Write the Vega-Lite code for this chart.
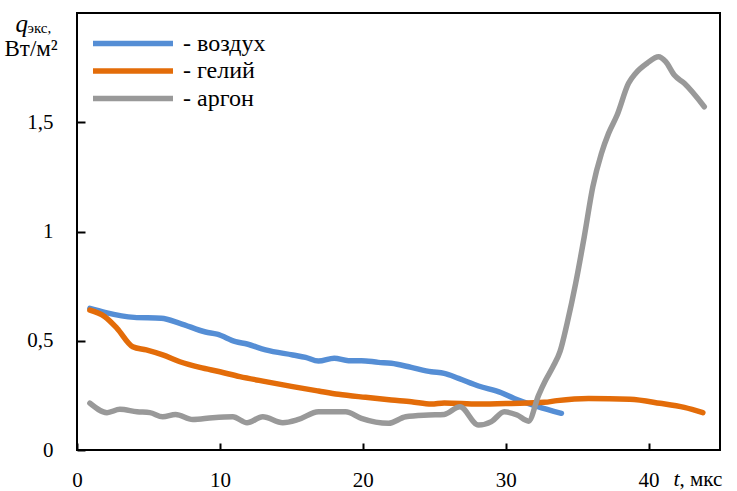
{
  "$schema": "https://vega.github.io/schema/vega-lite/v6.json",
  "width": 643,
  "height": 437,
  "autosize": {"type": "none"},
  "padding": {"left": 77, "top": 13, "right": 17, "bottom": 41},
  "config": {
    "view": {"stroke": "#000", "strokeWidth": 2},
    "font": "Liberation Serif",
    "axis": {"grid": false, "domain": false, "labelFont": "Liberation Serif", "titleFont": "Liberation Serif", "labelColor": "#000", "titleColor": "#000", "tickColor": "#000", "labelFlush": false}
  },
  "data": {
    "values": [
      {"gas": "воздух", "t": 0.9, "q": 0.648},
      {"gas": "воздух", "t": 1.95, "q": 0.63},
      {"gas": "воздух", "t": 4.0, "q": 0.607},
      {"gas": "воздух", "t": 5.9, "q": 0.603},
      {"gas": "воздух", "t": 7.2, "q": 0.58},
      {"gas": "воздух", "t": 9.0, "q": 0.54},
      {"gas": "воздух", "t": 9.8, "q": 0.53},
      {"gas": "воздух", "t": 11.1, "q": 0.496},
      {"gas": "воздух", "t": 11.9, "q": 0.485},
      {"gas": "воздух", "t": 13.2, "q": 0.458},
      {"gas": "воздух", "t": 15.1, "q": 0.435},
      {"gas": "воздух", "t": 16.0, "q": 0.424},
      {"gas": "воздух", "t": 16.9, "q": 0.407},
      {"gas": "воздух", "t": 18.0, "q": 0.42},
      {"gas": "воздух", "t": 19.0, "q": 0.409},
      {"gas": "воздух", "t": 19.9, "q": 0.409},
      {"gas": "воздух", "t": 21.1, "q": 0.401},
      {"gas": "воздух", "t": 22.0, "q": 0.397},
      {"gas": "воздух", "t": 23.4, "q": 0.378},
      {"gas": "воздух", "t": 24.8, "q": 0.358},
      {"gas": "воздух", "t": 25.7, "q": 0.351},
      {"gas": "воздух", "t": 26.7, "q": 0.328},
      {"gas": "воздух", "t": 28.1, "q": 0.293},
      {"gas": "воздух", "t": 29.7, "q": 0.262},
      {"gas": "воздух", "t": 30.6, "q": 0.236},
      {"gas": "воздух", "t": 32.2, "q": 0.2},
      {"gas": "воздух", "t": 33.9, "q": 0.168},
      {"gas": "гелий", "t": 0.9, "q": 0.64},
      {"gas": "гелий", "t": 1.95, "q": 0.61},
      {"gas": "гелий", "t": 2.8, "q": 0.557},
      {"gas": "гелий", "t": 3.9, "q": 0.473},
      {"gas": "гелий", "t": 4.85, "q": 0.458},
      {"gas": "гелий", "t": 6.0, "q": 0.435},
      {"gas": "гелий", "t": 7.2, "q": 0.404},
      {"gas": "гелий", "t": 8.6, "q": 0.378},
      {"gas": "гелий", "t": 10.0, "q": 0.358},
      {"gas": "гелий", "t": 11.4, "q": 0.336},
      {"gas": "гелий", "t": 13.2, "q": 0.313},
      {"gas": "гелий", "t": 15.1, "q": 0.29},
      {"gas": "гелий", "t": 16.9, "q": 0.27},
      {"gas": "гелий", "t": 18.3, "q": 0.255},
      {"gas": "гелий", "t": 20.2, "q": 0.241},
      {"gas": "гелий", "t": 22.0, "q": 0.229},
      {"gas": "гелий", "t": 23.4, "q": 0.221},
      {"gas": "гелий", "t": 24.8, "q": 0.21},
      {"gas": "гелий", "t": 25.7, "q": 0.215},
      {"gas": "гелий", "t": 28.1, "q": 0.21},
      {"gas": "гелий", "t": 30.4, "q": 0.213},
      {"gas": "гелий", "t": 32.7, "q": 0.218},
      {"gas": "гелий", "t": 33.6, "q": 0.226},
      {"gas": "гелий", "t": 35.8, "q": 0.236},
      {"gas": "гелий", "t": 38.7, "q": 0.232},
      {"gas": "гелий", "t": 40.8, "q": 0.214},
      {"gas": "гелий", "t": 42.5, "q": 0.195},
      {"gas": "гелий", "t": 43.8, "q": 0.171},
      {"gas": "аргон", "t": 0.9, "q": 0.214},
      {"gas": "аргон", "t": 2.1, "q": 0.171},
      {"gas": "аргон", "t": 3.0, "q": 0.186},
      {"gas": "аргон", "t": 4.2, "q": 0.175},
      {"gas": "аргон", "t": 5.1, "q": 0.171},
      {"gas": "аргон", "t": 6.0, "q": 0.152},
      {"gas": "аргон", "t": 6.9, "q": 0.163},
      {"gas": "аргон", "t": 8.1, "q": 0.14},
      {"gas": "аргон", "t": 9.5, "q": 0.148},
      {"gas": "аргон", "t": 10.9, "q": 0.152},
      {"gas": "аргон", "t": 11.9, "q": 0.125},
      {"gas": "аргон", "t": 13.0, "q": 0.152},
      {"gas": "аргон", "t": 14.4, "q": 0.125},
      {"gas": "аргон", "t": 15.5, "q": 0.14},
      {"gas": "аргон", "t": 16.9, "q": 0.175},
      {"gas": "аргон", "t": 18.8, "q": 0.175},
      {"gas": "аргон", "t": 19.9, "q": 0.145},
      {"gas": "аргон", "t": 21.8, "q": 0.122},
      {"gas": "аргон", "t": 23.0, "q": 0.152},
      {"gas": "аргон", "t": 24.6, "q": 0.16},
      {"gas": "аргон", "t": 25.7, "q": 0.163},
      {"gas": "аргон", "t": 26.8, "q": 0.198},
      {"gas": "аргон", "t": 28.1, "q": 0.114},
      {"gas": "аргон", "t": 29.0, "q": 0.13},
      {"gas": "аргон", "t": 29.9, "q": 0.175},
      {"gas": "аргон", "t": 30.8, "q": 0.16},
      {"gas": "аргон", "t": 31.6, "q": 0.132},
      {"gas": "аргон", "t": 32.3, "q": 0.25},
      {"gas": "аргон", "t": 32.8, "q": 0.32},
      {"gas": "аргон", "t": 33.3, "q": 0.38},
      {"gas": "аргон", "t": 33.8, "q": 0.45},
      {"gas": "аргон", "t": 34.3, "q": 0.58},
      {"gas": "аргон", "t": 34.9, "q": 0.763},
      {"gas": "аргон", "t": 35.5, "q": 0.976},
      {"gas": "аргон", "t": 36.1, "q": 1.205},
      {"gas": "аргон", "t": 36.7, "q": 1.357},
      {"gas": "аргон", "t": 37.2, "q": 1.449},
      {"gas": "аргон", "t": 37.8, "q": 1.533},
      {"gas": "аргон", "t": 38.6, "q": 1.678},
      {"gas": "аргон", "t": 39.1, "q": 1.724},
      {"gas": "аргон", "t": 39.9, "q": 1.77},
      {"gas": "аргон", "t": 40.7, "q": 1.8},
      {"gas": "аргон", "t": 41.2, "q": 1.777},
      {"gas": "аргон", "t": 41.8, "q": 1.716},
      {"gas": "аргон", "t": 42.5, "q": 1.678},
      {"gas": "аргон", "t": 43.9, "q": 1.571}
    ]
  },
  "layer": [
    {
      "mark": {"type": "line", "strokeWidth": 5.5, "interpolate": "monotone", "strokeCap": "round", "strokeJoin": "round"},
      "encoding": {
        "x": {"field": "t", "type": "quantitative", "scale": {"domain": [0, 45], "nice": false},
          "axis": {"orient": "bottom", "values": [0, 10, 20, 30, 40], "tickSize": -7, "tickWidth": 2, "labelPadding": 26, "labelFontSize": 21,
            "title": "t", "titleFontStyle": "italic", "titleFontWeight": "normal", "titleFontSize": 22, "titleAngle": 0, "titleX": 596, "titleY": 35, "titleAlign": "left", "titleBaseline": "alphabetic"}},
        "y": {"field": "q", "type": "quantitative", "scale": {"domain": [0, 2], "nice": false},
          "axis": {"orient": "left", "values": [0, 0.5, 1, 1.5], "labelExpr": "replace(toString(datum.value), '.', ',')", "tickSize": -8, "tickWidth": 2, "labelPadding": 32, "labelFontSize": 21,
            "title": "q", "titleFontStyle": "italic", "titleFontWeight": "normal", "titleFontSize": 25, "titleAngle": 0, "titleX": -62, "titleY": 18, "titleAlign": "left", "titleBaseline": "alphabetic"}},
        "color": {"field": "gas", "type": "nominal",
          "scale": {"domain": ["воздух", "гелий", "аргон"], "range": ["#558ED5", "#E36C09", "#999999"]},
          "legend": {"orient": "none", "legendX": 44, "legendY": 18.5, "title": null, "padding": 0, "symbolType": "M-8,0H8", "symbolSize": 100, "symbolStrokeWidth": 5.5, "labelFontSize": 24, "labelFont": "Liberation Serif", "labelColor": "#000", "labelExpr": "'- ' + datum.label", "labelOffset": 38, "rowPadding": 3.5}}
      }
    },
    {
      "mark": {"type": "line", "strokeOpacity": 0},
      "encoding": {
        "detail": {"field": "gas"},
        "x": {"field": "t", "type": "quantitative",
          "axis": {"orient": "bottom", "labels": false, "ticks": false, "domain": false,
            "title": ", мкс", "titleFontWeight": "normal", "titleFontSize": 21, "titleAngle": 0, "titleX": 602, "titleY": 35, "titleAlign": "left", "titleBaseline": "alphabetic"}},
        "y": {"field": "q", "type": "quantitative",
          "axis": {"orient": "left", "labels": false, "ticks": false, "domain": false,
            "title": "Вт/м²", "titleFontWeight": "normal", "titleFontSize": 23, "titleAngle": 0, "titleX": -73, "titleY": 42, "titleAlign": "left", "titleBaseline": "alphabetic"}}
      }
    },
    {
      "mark": {"type": "line", "strokeOpacity": 0},
      "encoding": {
        "detail": {"field": "gas"},
        "x": {"field": "t", "type": "quantitative", "axis": null},
        "y": {"field": "q", "type": "quantitative",
          "axis": {"orient": "left", "labels": false, "ticks": false, "domain": false,
            "title": "экс,", "titleFontWeight": "normal", "titleFontSize": 15, "titleAngle": 0, "titleX": -50, "titleY": 19, "titleAlign": "left", "titleBaseline": "alphabetic"}}
      }
    }
  ],
  "resolve": {"axis": {"x": "independent", "y": "independent"}}
}
